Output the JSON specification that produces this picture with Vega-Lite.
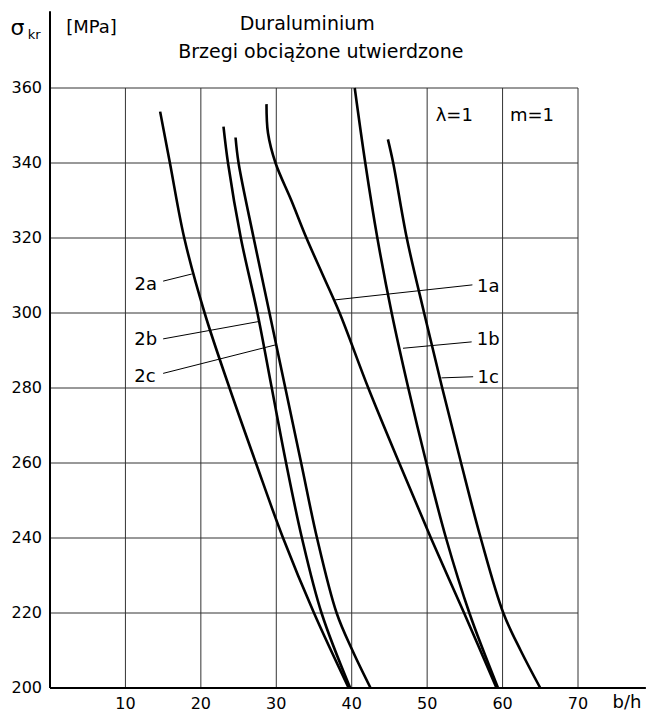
{
  "$schema": "https://vega.github.io/schema/vega-lite/v6.json",
  "width": 528,
  "height": 600,
  "autosize": {"type": "none"},
  "padding": {"left": 50, "top": 88, "right": 71, "bottom": 25},
  "background": "white",
  "config": {"view": {"stroke": null}, "font": "DejaVu Sans"},
  "datasets": {
    "curves": [
      {"curve": "2a", "b_h": 14.6, "sigma": 353.7},
      {"curve": "2a", "b_h": 15.9, "sigma": 340},
      {"curve": "2a", "b_h": 17.8, "sigma": 320},
      {"curve": "2a", "b_h": 20.5, "sigma": 300},
      {"curve": "2a", "b_h": 23.8, "sigma": 280},
      {"curve": "2a", "b_h": 27.3, "sigma": 260},
      {"curve": "2a", "b_h": 30.9, "sigma": 240},
      {"curve": "2a", "b_h": 35.0, "sigma": 220},
      {"curve": "2a", "b_h": 39.6, "sigma": 200},
      {"curve": "2b", "b_h": 23.0, "sigma": 349.7},
      {"curve": "2b", "b_h": 23.6, "sigma": 340},
      {"curve": "2b", "b_h": 25.3, "sigma": 320},
      {"curve": "2b", "b_h": 27.5, "sigma": 300},
      {"curve": "2b", "b_h": 29.4, "sigma": 280},
      {"curve": "2b", "b_h": 31.3, "sigma": 260},
      {"curve": "2b", "b_h": 33.4, "sigma": 240},
      {"curve": "2b", "b_h": 36.0, "sigma": 220},
      {"curve": "2b", "b_h": 39.8, "sigma": 200},
      {"curve": "2c", "b_h": 24.6, "sigma": 346.8},
      {"curve": "2c", "b_h": 25.0, "sigma": 340},
      {"curve": "2c", "b_h": 27.0, "sigma": 320},
      {"curve": "2c", "b_h": 29.1, "sigma": 300},
      {"curve": "2c", "b_h": 31.2, "sigma": 280},
      {"curve": "2c", "b_h": 33.3, "sigma": 260},
      {"curve": "2c", "b_h": 35.4, "sigma": 240},
      {"curve": "2c", "b_h": 38.0, "sigma": 220},
      {"curve": "2c", "b_h": 40.1, "sigma": 210},
      {"curve": "2c", "b_h": 42.5, "sigma": 200},
      {"curve": "1a", "b_h": 28.7, "sigma": 355.7},
      {"curve": "1a", "b_h": 28.9, "sigma": 348},
      {"curve": "1a", "b_h": 29.9, "sigma": 340},
      {"curve": "1a", "b_h": 32.0, "sigma": 330},
      {"curve": "1a", "b_h": 34.0, "sigma": 320},
      {"curve": "1a", "b_h": 36.2, "sigma": 310},
      {"curve": "1a", "b_h": 38.4, "sigma": 300},
      {"curve": "1a", "b_h": 42.2, "sigma": 280},
      {"curve": "1a", "b_h": 46.3, "sigma": 260},
      {"curve": "1a", "b_h": 50.5, "sigma": 240},
      {"curve": "1a", "b_h": 54.9, "sigma": 220},
      {"curve": "1a", "b_h": 59.2, "sigma": 200},
      {"curve": "1b", "b_h": 40.4, "sigma": 360},
      {"curve": "1b", "b_h": 41.8, "sigma": 340},
      {"curve": "1b", "b_h": 43.4, "sigma": 320},
      {"curve": "1b", "b_h": 45.3, "sigma": 300},
      {"curve": "1b", "b_h": 47.5, "sigma": 280},
      {"curve": "1b", "b_h": 49.9, "sigma": 260},
      {"curve": "1b", "b_h": 52.5, "sigma": 240},
      {"curve": "1b", "b_h": 55.6, "sigma": 220},
      {"curve": "1b", "b_h": 59.4, "sigma": 200},
      {"curve": "1c", "b_h": 44.8, "sigma": 346.3},
      {"curve": "1c", "b_h": 45.5, "sigma": 340},
      {"curve": "1c", "b_h": 47.3, "sigma": 320},
      {"curve": "1c", "b_h": 49.6, "sigma": 300},
      {"curve": "1c", "b_h": 52.0, "sigma": 280},
      {"curve": "1c", "b_h": 54.5, "sigma": 260},
      {"curve": "1c", "b_h": 57.1, "sigma": 240},
      {"curve": "1c", "b_h": 60.1, "sigma": 220},
      {"curve": "1c", "b_h": 62.4, "sigma": 210},
      {"curve": "1c", "b_h": 65.0, "sigma": 200}
    ],
    "labels": [
      {"label": "2a", "lx": 12.7, "ly": 307.5, "x1": 15.0, "y1": 308.5, "x2": 18.8, "y2": 310.4},
      {"label": "2b", "lx": 12.7, "ly": 292.8, "x1": 15.0, "y1": 293.1, "x2": 27.6, "y2": 297.7},
      {"label": "2c", "lx": 12.6, "ly": 282.9, "x1": 15.0, "y1": 283.9, "x2": 29.9, "y2": 291.5},
      {"label": "1a", "lx": 58.1, "ly": 306.9, "x1": 56.0, "y1": 307.5, "x2": 37.8, "y2": 303.5},
      {"label": "1b", "lx": 58.1, "ly": 292.8, "x1": 55.9, "y1": 292.3, "x2": 46.8, "y2": 290.6},
      {"label": "1c", "lx": 58.1, "ly": 282.7, "x1": 56.1, "y1": 283.0, "x2": 51.9, "y2": 282.7}
    ],
    "xticks": [{"v": 10}, {"v": 20}, {"v": 30}, {"v": 40}, {"v": 50}, {"v": 60}, {"v": 70}],
    "yticks": [{"v": 200}, {"v": 220}, {"v": 240}, {"v": 260}, {"v": 280}, {"v": 300}, {"v": 320}, {"v": 340}, {"v": 360}],
    "one": [{}]
  },
  "layer": [
    {
      "data": {"name": "xticks"},
      "mark": {"type": "rule", "stroke": "#333333", "strokeWidth": 1},
      "encoding": {
        "x": {"field": "v", "type": "quantitative", "scale": {"domain": [0, 70], "nice": false, "zero": false}, "axis": null},
        "y": {"datum": 200, "type": "quantitative", "scale": {"domain": [200, 360], "nice": false, "zero": false}, "axis": null},
        "y2": {"datum": 360}
      }
    },
    {
      "data": {"name": "yticks"},
      "mark": {"type": "rule", "stroke": "#333333", "strokeWidth": 1},
      "encoding": {
        "y": {"field": "v", "type": "quantitative", "axis": null},
        "x": {"datum": 0, "type": "quantitative", "axis": null},
        "x2": {"datum": 70}
      }
    },
    {
      "data": {"name": "xticks"},
      "mark": {"type": "text", "fontSize": 16, "align": "center", "baseline": "top", "dy": 8, "color": "black"},
      "encoding": {
        "x": {"field": "v", "type": "quantitative", "axis": null},
        "y": {"datum": 200, "type": "quantitative", "axis": null},
        "text": {"field": "v", "type": "quantitative"}
      }
    },
    {
      "data": {"name": "yticks"},
      "mark": {"type": "text", "fontSize": 16, "align": "right", "baseline": "middle", "dx": -8, "color": "black"},
      "encoding": {
        "y": {"field": "v", "type": "quantitative", "axis": null},
        "x": {"datum": 0, "type": "quantitative", "axis": null},
        "text": {"field": "v", "type": "quantitative"}
      }
    },
    {
      "data": {"name": "curves"},
      "mark": {"type": "line", "stroke": "black", "strokeWidth": 2.6, "interpolate": "catmull-rom"},
      "encoding": {
        "x": {"field": "b_h", "type": "quantitative", "axis": null},
        "y": {"field": "sigma", "type": "quantitative", "axis": null},
        "detail": {"field": "curve"}
      }
    },
    {
      "data": {"name": "labels"},
      "mark": {"type": "rule", "stroke": "black", "strokeWidth": 1},
      "encoding": {
        "x": {"field": "x1", "type": "quantitative", "axis": null},
        "y": {"field": "y1", "type": "quantitative", "axis": null},
        "x2": {"field": "x2"},
        "y2": {"field": "y2"}
      }
    },
    {
      "data": {"name": "labels"},
      "mark": {"type": "text", "fontSize": 18, "align": "center", "baseline": "middle", "color": "black"},
      "encoding": {
        "x": {"field": "lx", "type": "quantitative", "axis": null},
        "y": {"field": "ly", "type": "quantitative", "axis": null},
        "text": {"field": "label"}
      }
    },
    {
      "data": {"name": "one"},
      "mark": {"type": "rule", "stroke": "black", "strokeWidth": 2},
      "encoding": {
        "x": {"datum": 0, "type": "quantitative", "axis": null},
        "x2": {"datum": 79},
        "y": {"datum": 200, "type": "quantitative", "axis": null}
      }
    },
    {
      "data": {"name": "one"},
      "mark": {"type": "rule", "stroke": "black", "strokeWidth": 2},
      "encoding": {
        "x": {"datum": 0, "type": "quantitative", "axis": null},
        "y": {"datum": 200, "type": "quantitative", "axis": null},
        "y2": {"datum": 380.5}
      }
    },
    {
      "data": {"name": "one"},
      "mark": {"type": "text", "fontSize": 19, "align": "center", "baseline": "middle", "color": "black", "text": "Duraluminium"},
      "encoding": {
        "x": {"datum": 34.1, "type": "quantitative", "axis": null},
        "y": {"datum": 377.2, "type": "quantitative", "axis": null}
      }
    },
    {
      "data": {"name": "one"},
      "mark": {"type": "text", "fontSize": 19, "align": "center", "baseline": "middle", "color": "black", "text": "Brzegi obciążone utwierdzone"},
      "encoding": {
        "x": {"datum": 35.9, "type": "quantitative", "axis": null},
        "y": {"datum": 369.6, "type": "quantitative", "axis": null}
      }
    },
    {
      "data": {"name": "one"},
      "mark": {"type": "text", "fontSize": 22, "align": "center", "baseline": "middle", "color": "black", "text": "σ"},
      "encoding": {
        "x": {"datum": -4.3, "type": "quantitative", "axis": null},
        "y": {"datum": 376.1, "type": "quantitative", "axis": null}
      }
    },
    {
      "data": {"name": "one"},
      "mark": {"type": "text", "fontSize": 13, "align": "center", "baseline": "middle", "color": "black", "text": "kr"},
      "encoding": {
        "x": {"datum": -2.1, "type": "quantitative", "axis": null},
        "y": {"datum": 374.1, "type": "quantitative", "axis": null}
      }
    },
    {
      "data": {"name": "one"},
      "mark": {"type": "text", "fontSize": 18, "align": "center", "baseline": "middle", "color": "black", "text": "[MPa]"},
      "encoding": {
        "x": {"datum": 5.5, "type": "quantitative", "axis": null},
        "y": {"datum": 375.9, "type": "quantitative", "axis": null}
      }
    },
    {
      "data": {"name": "one"},
      "mark": {"type": "text", "fontSize": 18, "align": "center", "baseline": "middle", "color": "black", "text": "λ=1"},
      "encoding": {
        "x": {"datum": 53.6, "type": "quantitative", "axis": null},
        "y": {"datum": 352.5, "type": "quantitative", "axis": null}
      }
    },
    {
      "data": {"name": "one"},
      "mark": {"type": "text", "fontSize": 18, "align": "center", "baseline": "middle", "color": "black", "text": "m=1"},
      "encoding": {
        "x": {"datum": 63.9, "type": "quantitative", "axis": null},
        "y": {"datum": 352.5, "type": "quantitative", "axis": null}
      }
    },
    {
      "data": {"name": "one"},
      "mark": {"type": "text", "fontSize": 18, "align": "center", "baseline": "middle", "color": "black", "text": "b/h"},
      "encoding": {
        "x": {"datum": 76.5, "type": "quantitative", "axis": null},
        "y": {"datum": 196, "type": "quantitative", "axis": null}
      }
    }
  ]
}
